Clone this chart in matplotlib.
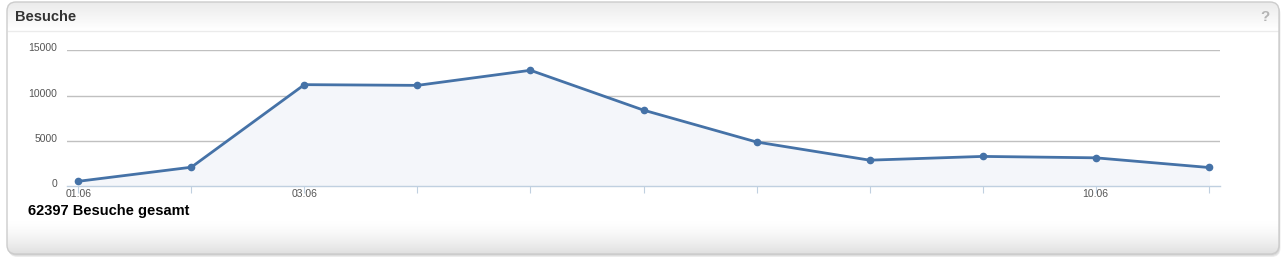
import numpy as np
import matplotlib.pyplot as plt
from matplotlib.patches import FancyBboxPatch, Rectangle

plt.rcParams['font.family'] = ['Liberation Sans', 'DejaVu Sans']

# data
days = ['01.06', '02.06', '03.06', '04.06', '05.06', '06.06',
        '07.06', '08.06', '09.06', '10.06', '11.06']
visits = [520, 2080, 11220, 11140, 12810, 8400, 4870, 2860, 3275, 3120, 2050]
shown_labels = ['01.06', '03.06', '10.06']
y_ticks = [0, 5000, 10000, 15000]
title = 'Besuche'
total_text = '62397 Besuche gesamt'

W, H = 1285, 264
fig = plt.figure(figsize=(W / 100, H / 100), dpi=100)
fig.patch.set_facecolor('white')

# background panel, drawn in pixel coordinates
bg = fig.add_axes([0, 0, 1, 1])
bg.set_xlim(0, W)
bg.set_ylim(H, 0)
bg.axis('off')

# soft shadow
for off, c in [(3, '#ececec'), (2, '#dedede'), (1, '#cfcfcf')]:
    bg.add_patch(FancyBboxPatch((7 + off * 0.5, 2 + off), 1272, 252,
                                boxstyle='round,pad=0,rounding_size=9',
                                fc=c, ec='none', zorder=0))
panel = FancyBboxPatch((7, 2), 1272, 252, boxstyle='round,pad=0,rounding_size=9',
                       fc='white', ec='none', zorder=1)
bg.add_patch(panel)

# header gradient (grey at top -> white at separator)
for y in range(2, 30):
    f = (y - 2) / 28
    g = 0.92 + 0.08 * f
    r = Rectangle((7, y), 1272, 1.05, fc=(g, g, g), ec='none', zorder=2)
    bg.add_patch(r)
    r.set_clip_path(panel)
bg.plot([8, 1278], [30.5, 30.5], color='#ebebeb', lw=1, zorder=3)

# footer gradient (white -> grey at bottom)
for y in range(218, 255):
    f = (y - 218) / 36
    g = 1.0 - 0.13 * f ** 1.6
    r = Rectangle((7, y), 1272, 1.05, fc=(g, g, g), ec='none', zorder=2)
    bg.add_patch(r)
    r.set_clip_path(panel)

border = FancyBboxPatch((7, 2), 1272, 252, boxstyle='round,pad=0,rounding_size=9',
                        fc='none', ec='#cccccc', lw=1, zorder=5)
bg.add_patch(border)

bg.text(15, 17, title, fontsize=10.5, fontweight='bold', color='#333333', va='center', ha='left', zorder=6)
bg.text(1265, 17, '?', fontsize=11, fontweight='bold', color='#b4b4b4', va='center', ha='center', zorder=6)
bg.text(28, 211, total_text, fontsize=10.5, fontweight='bold', color='black', va='center', ha='left', zorder=6)

# chart area
left, right, ytop, ybot = 67, 1220, 50.5, 186
ax = fig.add_axes([left / W, (H - ybot) / H, (right - left) / W, (ybot - ytop) / H])
ax.set_facecolor('none')
x = np.arange(len(days))
ax.set_xlim(-0.1, len(days) - 0.9)
ax.set_ylim(0, 15000)

for t in y_ticks[1:]:
    ax.axhline(t, color='#c0c0c0', lw=1, zorder=1)

ax.fill_between(x, visits, 0, color='#f4f6fa', zorder=2)
ax.plot(x, visits, color='#4572a7', lw=2, zorder=3, solid_joinstyle='round')
ax.plot(x, visits, 'o', color='#4572a7', ms=4.5, mec='#4572a7', zorder=4)

for s in ['top', 'right', 'left']:
    ax.spines[s].set_visible(False)
ax.spines['bottom'].set_color('#c0d0e0')
ax.spines['bottom'].set_linewidth(1)

ax.set_xticks(x)
ax.set_xticklabels([d if d in shown_labels else '' for d in days])
ax.tick_params(axis='x', length=5, color='#c0d0e0', labelsize=7.5, labelcolor='#555555', pad=-3)
ax.set_yticks(y_ticks)
ax.set_yticklabels([str(t) for t in y_ticks])
ax.tick_params(axis='y', length=0, labelsize=7.5, labelcolor='#555555', pad=7)
for lab in ax.get_yticklabels():
    lab.set_verticalalignment('center')
    lab.set_y(lab.get_position()[1])
for lab in ax.get_yticklabels():
    lab.set_transform(lab.get_transform() + plt.matplotlib.transforms.ScaledTranslation(0, 2 / 100, fig.dpi_scale_trans))

fig.savefig('out.png', dpi=100)
